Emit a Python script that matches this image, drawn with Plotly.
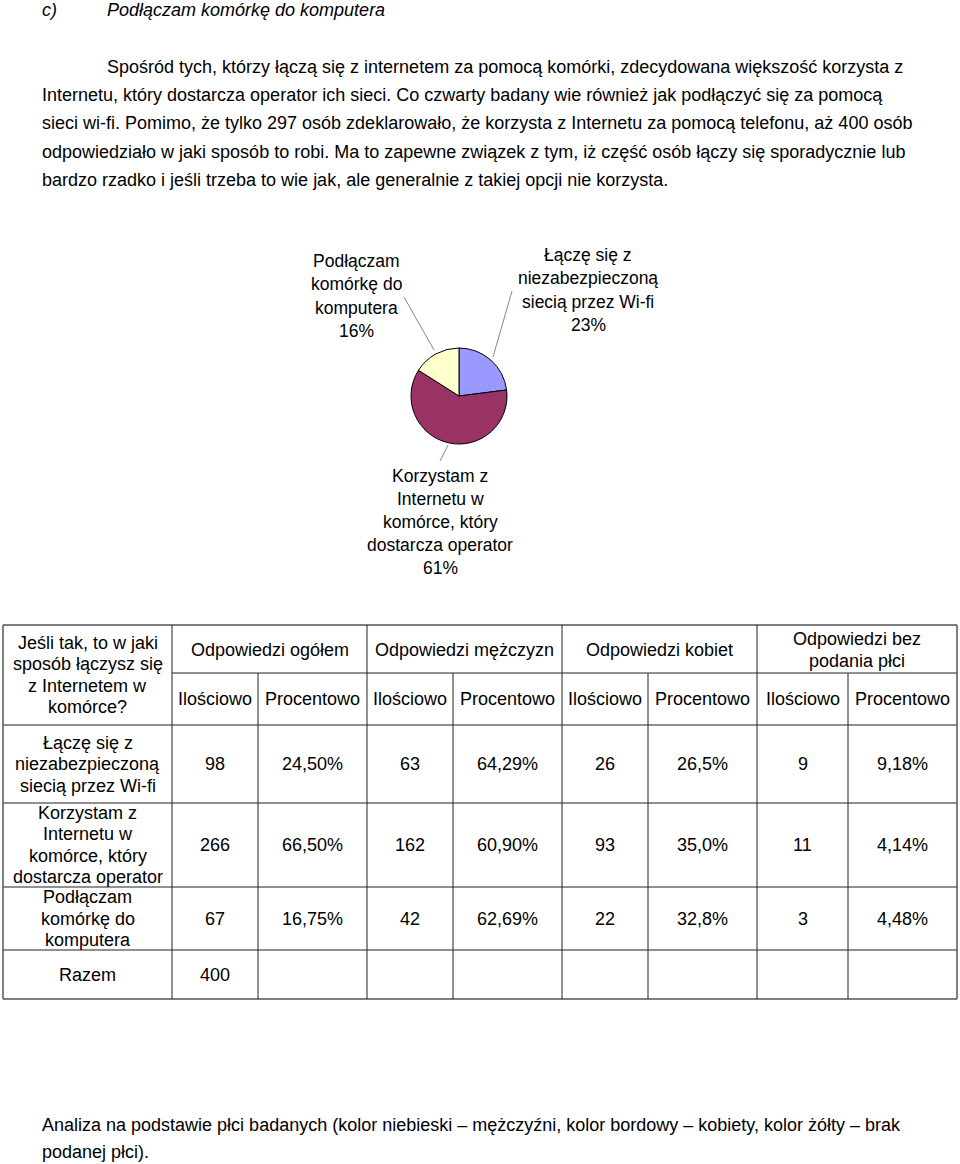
import plotly.graph_objects as go

W, H = 960, 1164

# ---------------- data ----------------
pie_labels = ["Łączę się z<br>niezabezpieczoną<br>siecią przez Wi-fi",
              "Korzystam z<br>Internetu w<br>komórce, który<br>dostarcza operator",
              "Podłączam<br>komórkę do<br>komputera"]
pie_pct = [23, 61, 16]
pie_colors = ["#9999FF", "#993366", "#FFFFCC"]

row_labels = ["Łączę się z<br>niezabezpieczoną<br>siecią przez Wi-fi",
              "Korzystam z<br>Internetu w<br>komórce, który<br>dostarcza operator",
              "Podłączam<br>komórkę do<br>komputera"]
total_count = [98, 266, 67]
total_pct = ["24,50%", "66,50%", "16,75%"]
men_count = [63, 162, 42]
men_pct = ["64,29%", "60,90%", "62,69%"]
women_count = [26, 93, 22]
women_pct = ["26,5%", "35,0%", "32,8%"]
nogender_count = [9, 11, 3]
nogender_pct = ["9,18%", "4,14%", "4,48%"]
razem_label = "Razem"
razem_total = 400

group_headers = ["Odpowiedzi ogółem", "Odpowiedzi mężczyzn", "Odpowiedzi kobiet",
                 "Odpowiedzi bez<br>podania płci"]
sub_headers = ["Ilościowo", "Procentowo"]
corner_header = "Jeśli tak, to w jaki<br>sposób łączysz się<br>z Internetem w<br>komórce?"

title_label = "c)"
title_text = "Podłączam komórkę do komputera"
paragraph = [
    "Spośród tych, którzy łączą się z internetem za pomocą komórki, zdecydowana większość korzysta z",
    "Internetu, który dostarcza operator ich sieci. Co czwarty badany wie również jak podłączyć się za pomocą",
    "sieci wi-fi. Pomimo, że tylko 297 osób zdeklarowało, że korzysta z Internetu za pomocą telefonu, aż 400 osób",
    "odpowiedziało w jaki sposób to robi. Ma to zapewne związek z tym, iż część osób łączy się sporadycznie lub",
    "bardzo rzadko i jeśli trzeba to wie jak, ale generalnie z takiej opcji nie korzysta.",
]
footer = [
    "Analiza na podstawie płci badanych (kolor niebieski – mężczyźni, kolor bordowy – kobiety, kolor żółty – brak",
    "podanej płci).",
]

# ---------------- helpers ----------------
def px(x):
    return x / W

def py(y):
    return 1 - y / H

BODY_FONT = dict(family="Liberation Sans, Arial, sans-serif", size=18, color="#000")
TABLE_FONT = dict(family="Liberation Sans, Arial, sans-serif", size=18, color="#000")
PIE_FONT = dict(family="Liberation Sans, Arial, sans-serif", size=17.5, color="#000")

annotations = []
shapes = []

def text(x, y, s, font, xanchor="center", align="center", spacing=21.5):
    lines = s.split("<br>")
    n = len(lines)
    for k, ln in enumerate(lines):
        yy = y + (k - (n - 1) / 2) * spacing
        annotations.append(dict(x=px(x), y=py(yy), xref="paper", yref="paper", text=ln,
                                showarrow=False, xanchor=xanchor, yanchor="middle",
                                align=align, font=font))

def line(x0, y0, x1, y1, color="#222", width=1):
    shapes.append(dict(type="line", xref="paper", yref="paper",
                       x0=px(x0), y0=py(y0), x1=px(x1), y1=py(y1),
                       line=dict(color=color, width=width)))

# ---------------- text blocks ----------------
text(40, 10, "<i>" + title_label + "</i>", BODY_FONT, xanchor="left", align="left")
text(105, 10, "<i>" + title_text + "</i>", BODY_FONT, xanchor="left", align="left")

para_y = [67, 95, 123, 152, 180]
for i, (s, yy) in enumerate(zip(paragraph, para_y)):
    text(105 if i == 0 else 40, yy, s, BODY_FONT, xanchor="left", align="left")

for s, yy in zip(footer, [1125, 1152]):
    text(40, yy, s, BODY_FONT, xanchor="left", align="left")

# ---------------- pie ----------------
cx, cy, r = 459, 396, 48
fig = go.Figure()
fig.add_trace(go.Pie(
    values=pie_pct, labels=[l.replace("<br>", " ") for l in pie_labels],
    marker=dict(colors=pie_colors, line=dict(color="#000", width=1)),
    sort=False, direction="clockwise", rotation=0,
    textinfo="none", hoverinfo="label+percent", showlegend=False,
    domain=dict(x=[px(cx - r), px(cx + r)], y=[py(cy + r), py(cy - r)]),
))

# pie labels with leader lines
pie_label_pos = [(588, 290), (440, 522), (356, 296)]
for lab, pct, (lx, ly) in zip(pie_labels, pie_pct, pie_label_pos):
    text(lx, ly, f"{lab}<br>{pct}%", PIE_FONT, spacing=23.2)
line(512, 291, 493, 357, color="#888")
line(404, 297, 434, 350, color="#888")
line(448, 445, 440, 461, color="#888")

# ---------------- table ----------------
col_x = [3, 172, 258, 367, 453, 562, 648, 757, 848, 957]
top, mid, hdr_bot = 625, 673, 725
row_y = [725, 803, 887, 950, 999]

# horizontal lines
line(col_x[0], top, col_x[-1], top, color="#555", width=1.5)
line(col_x[1], mid, col_x[-1], mid)
for yy in row_y[:-1]:
    line(col_x[0], yy, col_x[-1], yy)
line(col_x[0], row_y[-1], col_x[-1], row_y[-1], color="#555", width=1.5)
# vertical lines
for i, xx in enumerate(col_x):
    if i in (0, len(col_x) - 1):
        line(xx, top, xx, row_y[-1], color="#555", width=1.5)
    elif i % 2 == 1:
        line(xx, top, xx, row_y[-1])
    else:
        line(xx, mid, xx, row_y[-1])

def cc(i):
    return (col_x[i] + col_x[i + 1]) / 2

text(cc(0), (top + hdr_bot) / 2, corner_header, TABLE_FONT)
for g, h in enumerate(group_headers):
    text((col_x[1 + 2 * g] + col_x[3 + 2 * g]) / 2, (top + mid) / 2 + 1, h, TABLE_FONT)
    for k, sh in enumerate(sub_headers):
        text(cc(1 + 2 * g + k), (mid + hdr_bot) / 2, sh, TABLE_FONT)

columns = [total_count, total_pct, men_count, men_pct, women_count, women_pct,
           nogender_count, nogender_pct]
for r_i, lab in enumerate(row_labels):
    ymid = (row_y[r_i] + row_y[r_i + 1]) / 2
    text(cc(0), ymid, lab, TABLE_FONT)
    for c_i, col in enumerate(columns):
        text(cc(c_i + 1), ymid, str(col[r_i]), TABLE_FONT)
ymid = (row_y[3] + row_y[4]) / 2
text(cc(0), ymid, razem_label, TABLE_FONT)
text(cc(1), ymid, str(razem_total), TABLE_FONT)

fig.update_layout(
    width=W, height=H, margin=dict(l=0, r=0, t=0, b=0),
    paper_bgcolor="white", plot_bgcolor="white",
    annotations=annotations, shapes=shapes, showlegend=False,
)

fig.write_html("out.html")
